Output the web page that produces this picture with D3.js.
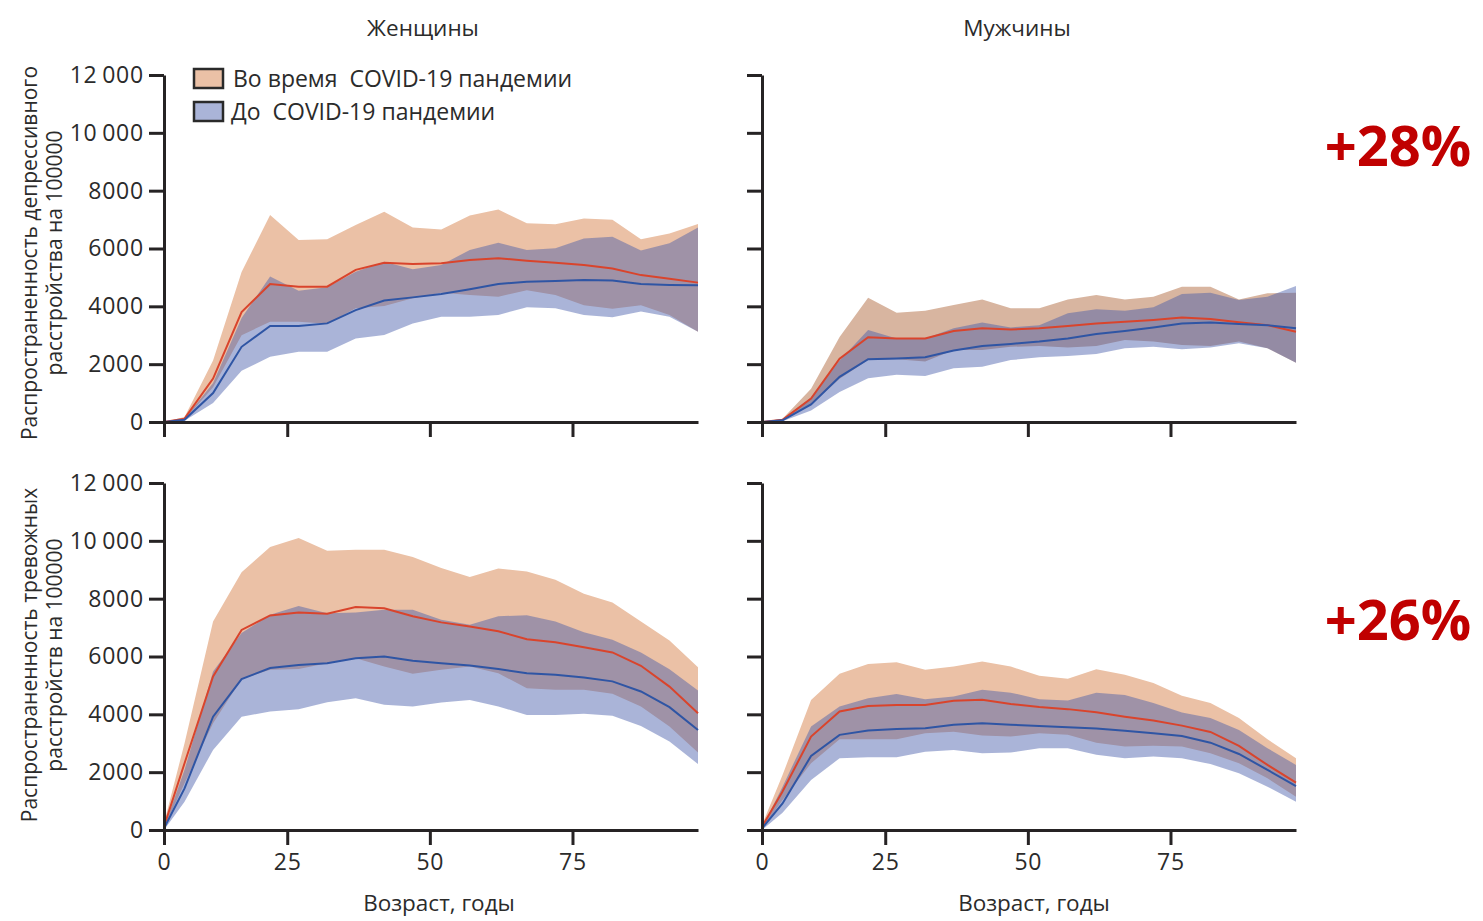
<!DOCTYPE html>
<html><head><meta charset="utf-8">
<script src="https://cdn.jsdelivr.net/npm/d3@7"></script>
<style>
html,body{margin:0;padding:0;background:#fff;}
svg{display:block;font-family:"Open Sans",sans-serif;}
</style></head>
<body>
<svg id="chart" width="1483" height="921"></svg>
<script>
// ---- data ----
const ages = [3.4, 7, 12, 17, 22, 27, 32, 37, 42, 47, 52, 57, 62, 67, 72, 77, 82, 87, 92, 97];
const xTickValues = [3.4, 25, 50, 75];
const xTickLabels = ["0", "25", "50", "75"];
const yTickValues = [0, 2000, 4000, 6000, 8000, 10000, 12000];

// Depression, women
const depWomenDuring   = [0,115,1500,3800,4770,4680,4680,5260,5510,5460,5490,5600,5660,5580,5510,5430,5310,5080,4950,4820];
const depWomenDuringHi = [0,170,2130,5190,7160,6290,6320,6810,7270,6730,6660,7140,7350,6870,6840,7040,6990,6320,6520,6850];
const depWomenDuringLo = [0,80,1200,3000,3470,3470,3400,3930,4010,4280,4470,4390,4330,4560,4390,4040,3920,4040,3700,3120];
const depWomenBefore   = [0,80,1000,2600,3320,3320,3410,3870,4200,4310,4430,4590,4770,4850,4880,4910,4890,4770,4740,4730];
const depWomenBeforeHi = [0,110,1350,3600,5030,4540,4660,5200,5540,5280,5430,5950,6200,5950,6010,6350,6410,5930,6180,6730];
const depWomenBeforeLo = [0,40,660,1770,2260,2430,2430,2890,3010,3410,3640,3640,3700,3970,3930,3700,3620,3820,3640,3120];

// Depression, men
const depMenDuring   = [0,80,810,2190,2930,2890,2890,3150,3240,3200,3240,3320,3410,3470,3530,3610,3560,3450,3350,3120];
const depMenDuringHi = [0,115,1150,2940,4300,3780,3850,4050,4240,3930,3930,4240,4390,4240,4330,4680,4680,4240,4450,4470];
const depMenDuringLo = [0,60,600,1500,2140,2170,2090,2490,2490,2600,2630,2580,2630,2840,2780,2660,2630,2780,2550,2050];
const depMenBefore   = [0,60,610,1560,2170,2200,2240,2470,2630,2700,2780,2890,3040,3150,3270,3410,3440,3390,3350,3240];
const depMenBeforeHi = [0,90,850,2130,3180,2890,2890,3240,3440,3270,3350,3760,3900,3850,3970,4430,4470,4220,4330,4700];
const depMenBeforeLo = [0,30,400,1040,1510,1630,1590,1860,1910,2140,2240,2280,2350,2550,2600,2520,2580,2720,2550,2050];

// Anxiety, women
const anxWomenDuring   = [115,2310,5310,6920,7420,7520,7480,7710,7670,7390,7180,7040,6870,6600,6490,6320,6140,5680,4960,4040];
const anxWomenDuringHi = [230,3000,7210,8910,9790,10100,9660,9690,9690,9440,9060,8750,9040,8940,8650,8170,7870,7210,6550,5630];
const anxWomenDuringLo = [60,1620,3690,5220,5540,5570,5770,5940,5650,5400,5540,5650,5420,4900,4850,4850,4710,4270,3580,2680];
const anxWomenBefore   = [60,1440,3920,5220,5600,5710,5770,5940,6000,5850,5770,5690,5570,5420,5370,5270,5140,4790,4250,3460];
const anxWomenBeforeHi = [80,2080,5480,6810,7440,7750,7500,7520,7620,7620,7270,7100,7390,7430,7210,6840,6580,6140,5560,4820];
const anxWomenBeforeLo = [0,980,2770,3920,4100,4180,4420,4560,4330,4270,4410,4500,4270,3980,3980,4020,3950,3600,3060,2280];

// Anxiety, men
const anxMenDuring   = [115,1330,3230,4100,4290,4320,4320,4470,4500,4360,4250,4180,4070,3920,3790,3610,3390,2910,2250,1640];
const anxMenDuringHi = [170,1900,4500,5400,5740,5800,5540,5650,5830,5650,5330,5230,5560,5370,5080,4640,4390,3870,3140,2480];
const anxMenDuringLo = [30,1040,2310,3140,3140,3140,3350,3400,3270,3230,3350,3290,3020,2890,2910,2890,2650,2310,1790,1150];
const anxMenBefore   = [60,920,2560,3290,3440,3490,3520,3640,3690,3640,3600,3550,3510,3430,3350,3250,3020,2630,2080,1520];
const anxMenBeforeHi = [80,1500,3580,4270,4560,4700,4520,4620,4850,4750,4520,4480,4750,4670,4390,4060,3870,3460,2830,2250];
const anxMenBeforeLo = [0,600,1730,2480,2520,2520,2710,2770,2650,2680,2830,2830,2600,2480,2540,2480,2280,1960,1500,980];

const columnTitles = ["Женщины", "Мужчины"];
const rowTitles = [["Распространенность депрессивного", "расстройства на 100000"],
                   ["Распространенность тревожных", "расстройств на 100000"]];
const rowChanges = ["+28%", "+26%"];
const legendLabels = ["Во время  COVID-19 пандемии", "До  COVID-19 пандемии"];
const xTitle = "Возраст, годы";

// ---- styling / layout ----
const C = {
  duringFill: "#ebc1a6", duringFillDark: "#d8b5a0", beforeFill: "#4359a9", beforeOpacity: 0.45, beforeLegend: "#aab4d8",
  duringLine: "#d9442c", beforeLine: "#2f55a4", axis: "#262324", text: "#2b2b2b", change: "#c00000"
};
const colX = [164, 762];
const rowY = [75, 483];
const colTitleX = [423, 1017];
const xTitleX = [439, 1034];
const rowTitleCenter = [253, 655];
const rowChangeBaseline = [166, 640];
const W = 534, H = 347;

const svg = d3.select("#chart");
svg.append("rect").attr("width", 1483).attr("height", 921).attr("fill", "#fff");

const x = d3.scaleLinear().domain([ages[0], 97]).range([0, W]);
const y = d3.scaleLinear().domain([0, 12000]).range([H, 0]);

const fmtY = d => d >= 10000 ? String(Math.floor(d/1000)) + "\u2009" + "000" : String(d);

const panels = [
  {r:0,c:0, fill:C.duringFill, d:[depWomenDuring,depWomenDuringHi,depWomenDuringLo,depWomenBefore,depWomenBeforeHi,depWomenBeforeLo]},
  {r:0,c:1, fill:C.duringFillDark, d:[depMenDuring,depMenDuringHi,depMenDuringLo,depMenBefore,depMenBeforeHi,depMenBeforeLo]},
  {r:1,c:0, fill:C.duringFill, d:[anxWomenDuring,anxWomenDuringHi,anxWomenDuringLo,anxWomenBefore,anxWomenBeforeHi,anxWomenBeforeLo]},
  {r:1,c:1, fill:C.duringFill, d:[anxMenDuring,anxMenDuringHi,anxMenDuringLo,anxMenBefore,anxMenBeforeHi,anxMenBeforeLo]},
];

const area = (hi, lo) => d3.area().x((d,i) => x(ages[i])).y0((d,i) => y(lo[i])).y1((d,i) => y(hi[i]))(ages);
const line = vals => d3.line().x((d,i) => x(ages[i])).y((d,i) => y(vals[i]))(ages);

panels.forEach(p => {
  const g = svg.append("g").attr("transform", `translate(${colX[p.c]},${rowY[p.r]})`);
  const [dm, dh, dl, bm, bh, bl] = p.d;
  g.append("path").attr("d", area(dh, dl)).attr("fill", p.fill);
  g.append("path").attr("d", area(bh, bl)).attr("fill", C.beforeFill).attr("fill-opacity", C.beforeOpacity);
  g.append("path").attr("d", line(dm)).attr("fill", "none").attr("stroke", C.duringLine).attr("stroke-width", 2);
  g.append("path").attr("d", line(bm)).attr("fill", "none").attr("stroke", C.beforeLine).attr("stroke-width", 2);

  const ya = d3.axisLeft(y).tickValues(yTickValues).tickSize(15).tickSizeOuter(0).tickPadding(5)
    .tickFormat(p.c === 0 ? fmtY : () => "");
  const yg = g.append("g").call(ya);
  const xa = d3.axisBottom(x).tickValues(xTickValues).tickSize(15).tickSizeOuter(0).tickPadding(5)
    .tickFormat(p.r === 1 ? ((d,i) => xTickLabels[i]) : () => "");
  const xg = g.append("g").attr("transform", `translate(0,${H})`).call(xa);
  [yg, xg].forEach(a => {
    a.select(".domain").attr("stroke", C.axis).attr("stroke-width", 3);
    a.selectAll(".tick line").attr("stroke", C.axis).attr("stroke-width", 3);
    a.selectAll(".tick text").attr("fill", C.text).style("font-size", "23px")
      .style("letter-spacing", "0.8px").style("font-family", '"Open Sans",sans-serif');
  });
  xg.selectAll(".tick text").attr("dy", "0.85em");
});

// column titles
columnTitles.forEach((t, i) => {
  svg.append("text").attr("x", colTitleX[i]).attr("y", 36).attr("text-anchor", "middle")
    .attr("fill", C.text).style("font-size", "22.5px").text(t);
});
// x titles
xTitleX.forEach(cx => {
  svg.append("text").attr("x", cx).attr("y", 911).attr("text-anchor", "middle")
    .attr("fill", C.text).style("font-size", "22.5px").text(xTitle);
});
// row titles (rotated)
rowTitles.forEach((lines, r) => {
  lines.forEach((t, k) => {
    svg.append("text").attr("transform", `translate(${37 + k*25},${rowTitleCenter[r]}) rotate(-90)`)
      .attr("text-anchor", "middle").attr("fill", C.text).style("font-size", "21px").text(t);
  });
});
// percentage changes
rowChanges.forEach((t, r) => {
  svg.append("text").attr("x", 1398).attr("y", rowChangeBaseline[r]).attr("text-anchor", "middle")
    .attr("fill", C.change).style("font-size", "56px").style("font-weight", "bold").text(t);
});
// legend
const lg = svg.append("g").attr("transform", "translate(194,69)");
[C.duringFill, C.beforeLegend].forEach((col, i) => {
  lg.append("rect").attr("x", 0).attr("y", i*33).attr("width", 29).attr("height", 19)
    .attr("fill", col).attr("stroke", "#2a2a2a").attr("stroke-width", 2.5);
  lg.append("text").attr("x", 39 - i*2).attr("y", i*33 + 18).attr("fill", C.text)
    .style("font-size", "23px").attr("xml:space", "preserve").text(legendLabels[i]);
});
</script>
</body></html>
